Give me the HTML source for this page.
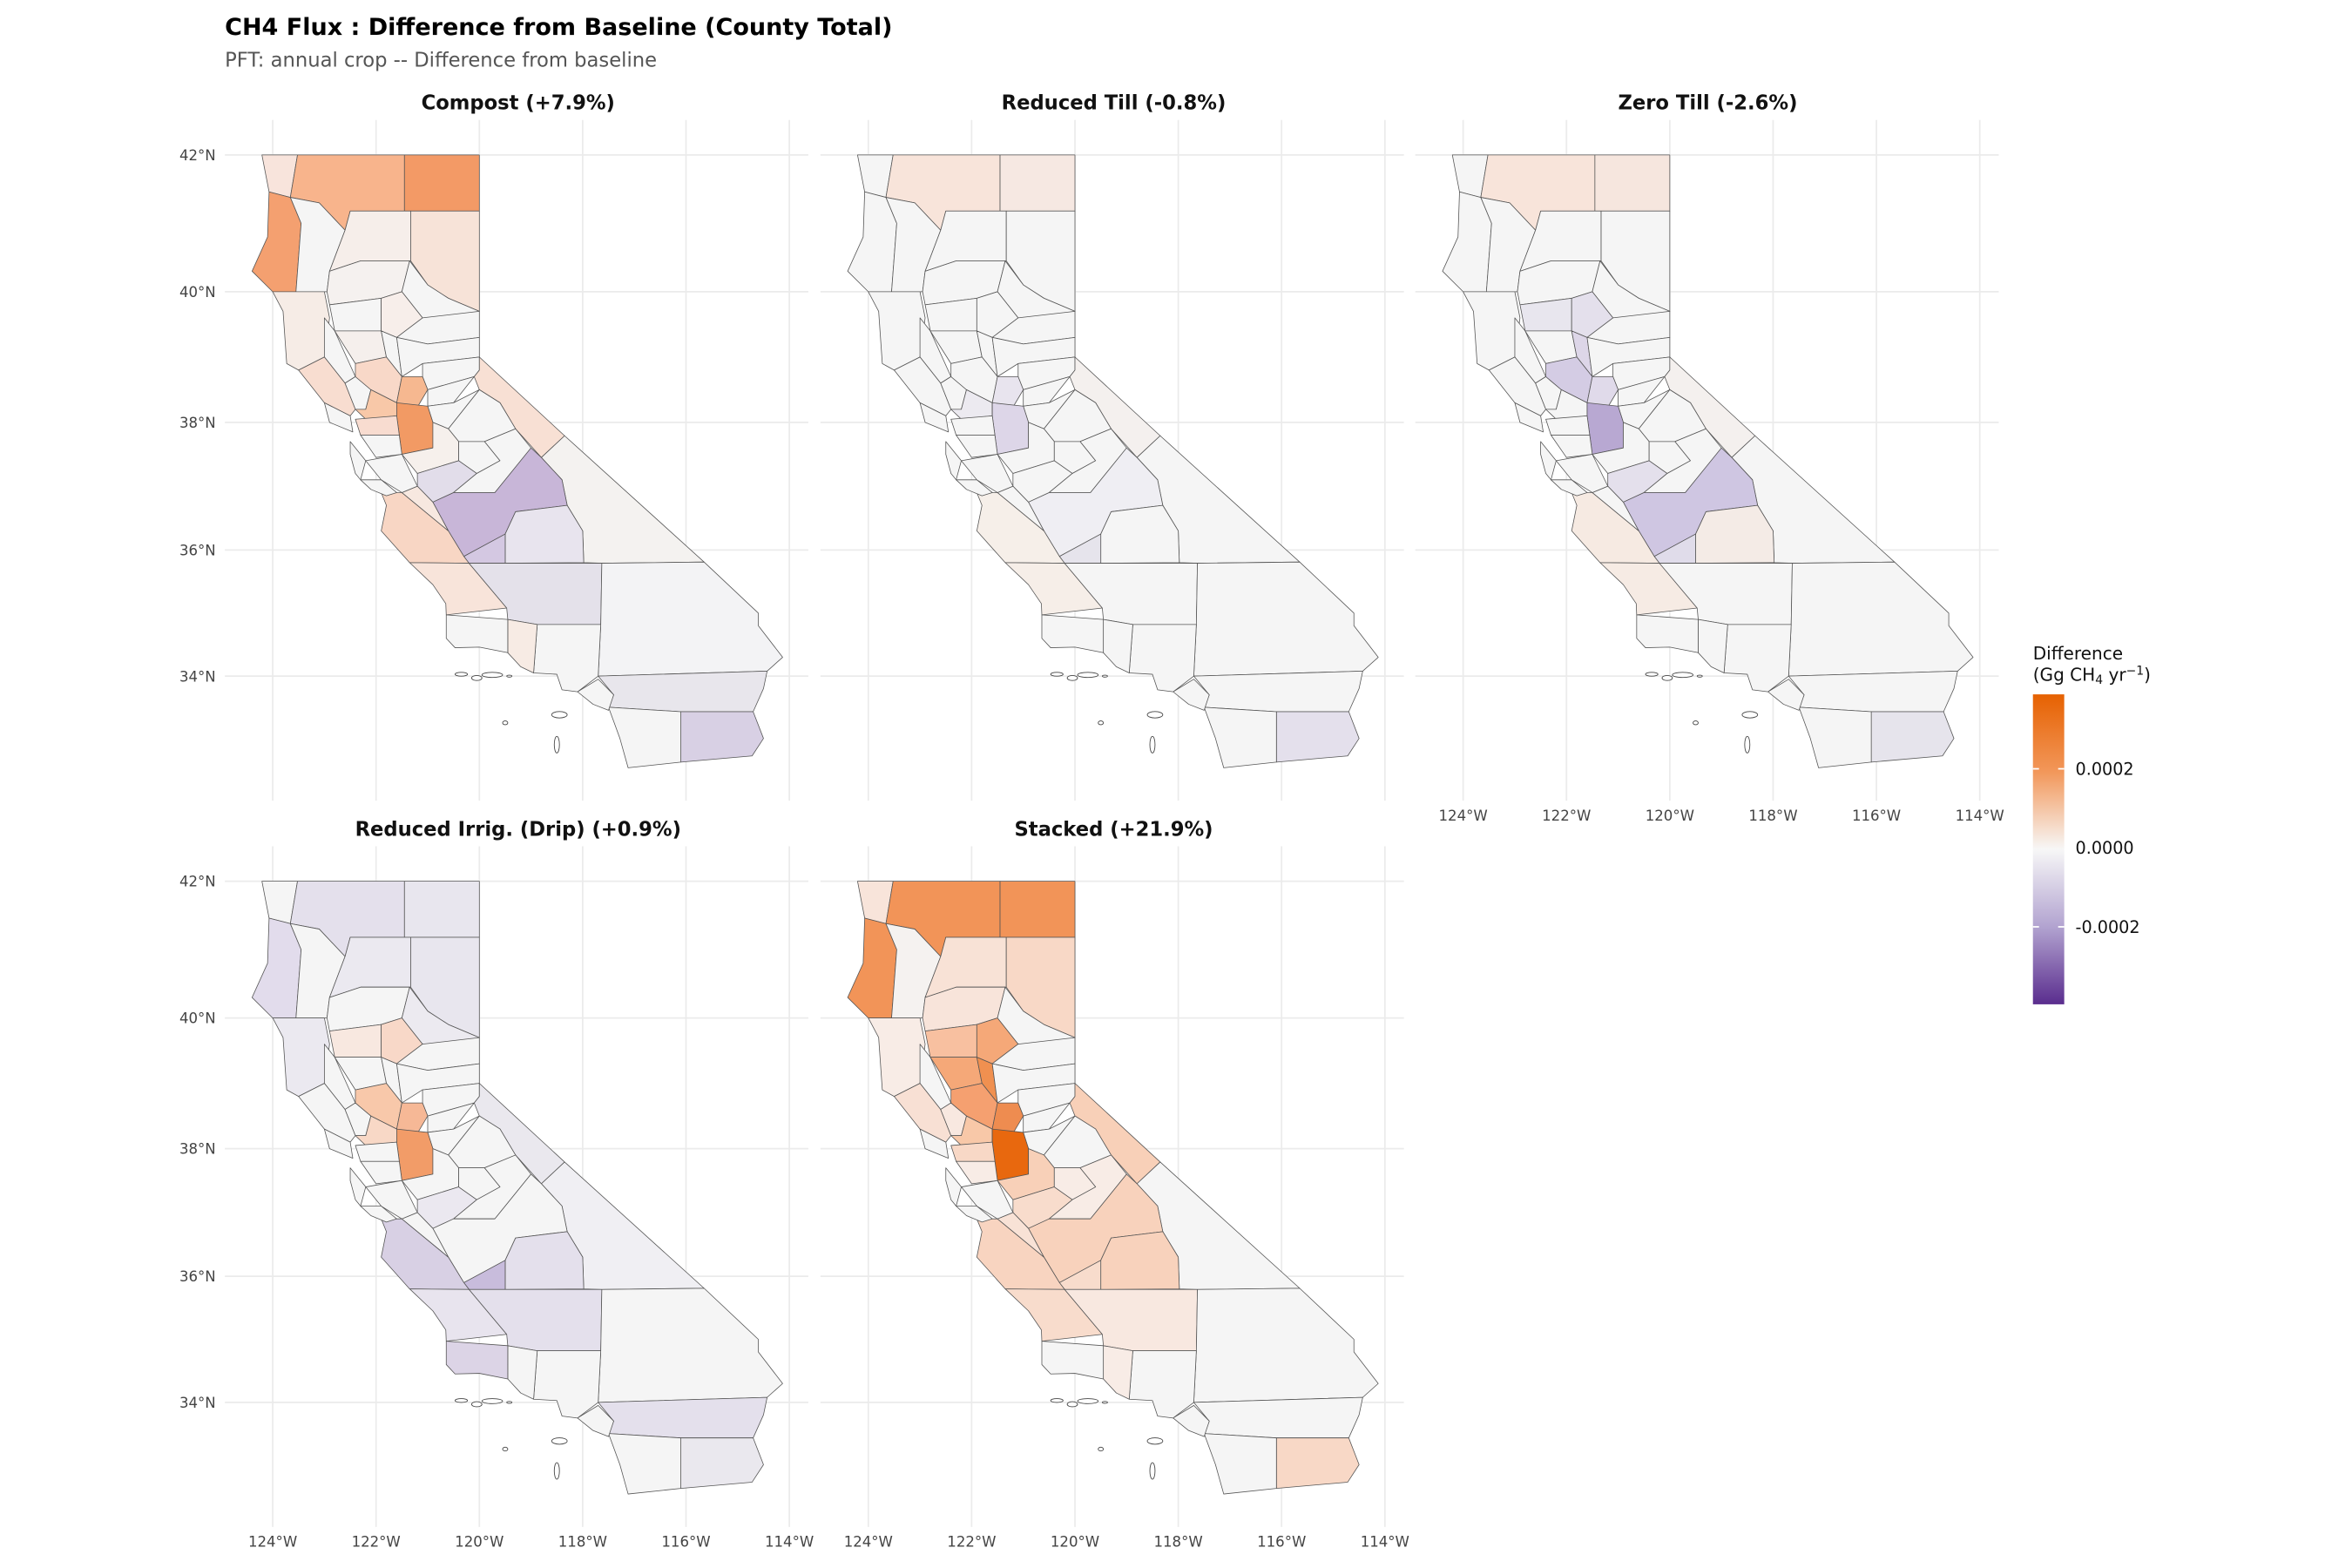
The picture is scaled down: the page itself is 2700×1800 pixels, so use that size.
<!DOCTYPE html>
<html><head><meta charset="utf-8"><style>
html,body{margin:0;padding:0;background:#fff;}
svg{display:block;}
text{font-family:"DejaVu Sans","Liberation Sans",sans-serif;}
</style></head><body>
<svg id="s" width="2700" height="1800" viewBox="0 0 1548 1032" xmlns="http://www.w3.org/2000/svg">
<defs><linearGradient id="lg" x1="0" y1="0" x2="0" y2="1">
<stop offset="0" stop-color="#e66101"/><stop offset="0.25" stop-color="#f2975a"/><stop offset="0.5" stop-color="#f7f7f7"/><stop offset="0.75" stop-color="#b2a3d0"/><stop offset="1" stop-color="#5a2d8e"/></linearGradient></defs>
<rect width="1548" height="1032" fill="#fff"/>
<g id="grid"></g><g id="maps"></g>
<text x="148" y="23" font-size="15.5" font-weight="bold" fill="#000">CH4 Flux : Difference from Baseline (County Total)</text>
<text x="148" y="44" font-size="13" fill="#555">PFT: annual crop  -- Difference from baseline</text>
<g font-size="13" font-weight="bold" text-anchor="middle" fill="#111">
<text x="341" y="72">Compost (+7.9%)</text>
<text x="733" y="72">Reduced Till (-0.8%)</text>
<text x="1124" y="72">Zero Till (-2.6%)</text>
<text x="341" y="550">Reduced Irrig. (Drip) (+0.9%)</text>
<text x="733" y="550">Stacked (+21.9%)</text>
</g>
<g font-size="11.5" fill="#111">
<text x="1338" y="434">Difference</text>
<text x="1338" y="448">(Gg CH<tspan font-size="8" dy="2">4</tspan><tspan dy="-2"> yr</tspan><tspan font-size="8" dy="-4">−1</tspan><tspan dy="4">)</tspan></text>
<rect x="1338" y="457" width="20.6" height="204" fill="url(#lg)"/>
<line x1="1338" y1="506" x2="1342" y2="506" stroke="#fff"/><line x1="1354.6" y1="506" x2="1358.6" y2="506" stroke="#fff"/>
<line x1="1338" y1="610" x2="1342" y2="610" stroke="#fff"/><line x1="1354.6" y1="610" x2="1358.6" y2="610" stroke="#fff"/>
<text x="1366" y="510" font-size="11">0.0002</text>
<text x="1366" y="562" font-size="11">0.0000</text>
<text x="1366" y="614" font-size="11">-0.0002</text>
</g>
</svg>
<script>
var NS="http://www.w3.org/2000/svg";
var LAT=[[42,102],[40,192],[38,278],[36,362],[34,445],[32,527]];
function Y(l){for(var i=0;i<LAT.length-1;i++){var a=LAT[i],b=LAT[i+1];if(l>=b[0]||i==LAT.length-2){return a[1]+(a[0]-l)*(b[1]-a[1])/(a[0]-b[0]);}}}
function X(o){return 179.5+(o+124)*34.0;}
var C={
DN:[[-124.21,42],[-123.52,42],[-123.66,41.38],[-124.07,41.46]],
SI:[[-123.52,42],[-121.45,42],[-121.45,41.18],[-122.5,41.18],[-122.6,40.9],[-123.1,41.3],[-123.66,41.38]],
MO:[[-121.45,42],[-120,42],[-120,41.18],[-121.45,41.18]],
HU:[[-124.07,41.46],[-123.66,41.38],[-123.45,41.0],[-123.55,40.0],[-124.0,40.0],[-124.4,40.3],[-124.1,40.8]],
TR:[[-123.66,41.38],[-123.1,41.3],[-122.6,40.9],[-122.9,40.3],[-122.95,40.0],[-123.55,40.0],[-123.45,41.0]],
SH:[[-122.5,41.18],[-121.33,41.18],[-121.33,40.45],[-122.3,40.45],[-122.9,40.3],[-122.6,40.9]],
LA_:[[-121.33,41.18],[-120,41.18],[-120,39.7],[-120.6,39.9],[-121.0,40.1],[-121.33,40.45]],
ME:[[-124.0,40.0],[-123.0,40.0],[-122.9,39.6],[-123.0,39.0],[-123.5,38.8],[-123.73,38.9],[-123.8,39.7]],
TE:[[-122.95,40.0],[-122.9,40.3],[-122.3,40.45],[-121.35,40.45],[-121.5,40.0],[-121.9,39.9],[-122.9,39.8]],
PL:[[-121.35,40.45],[-121.0,40.1],[-120.6,39.9],[-120.0,39.7],[-120.5,39.6],[-121.1,39.6],[-121.5,40.0]],
GL:[[-122.9,39.8],[-121.9,39.9],[-121.9,39.4],[-122.8,39.4]],
BU:[[-121.9,39.9],[-121.5,40.0],[-121.1,39.6],[-121.6,39.3],[-121.9,39.4]],
LK:[[-123.0,39.6],[-122.8,39.4],[-122.4,38.7],[-122.6,38.6],[-123.0,39.0]],
CO:[[-122.8,39.4],[-121.9,39.4],[-121.8,39.0],[-122.4,38.9]],
NV:[[-121.1,39.6],[-120.0,39.7],[-120.0,39.3],[-121.0,39.2],[-121.6,39.3]],
SU:[[-121.9,39.4],[-121.6,39.3],[-121.5,38.7],[-121.8,39.0]],
PC:[[-121.6,39.3],[-121.0,39.2],[-120.0,39.3],[-120.0,39.0],[-121.1,38.9],[-121.5,38.7]],
ED:[[-121.1,38.9],[-120.0,39.0],[-120.0,38.8],[-120.1,38.7],[-121.0,38.5],[-121.1,38.7]],
SO:[[-123.5,38.8],[-123.0,39.0],[-122.6,38.6],[-122.4,38.2],[-122.5,38.1],[-123.0,38.3]],
NA:[[-122.6,38.6],[-122.4,38.7],[-122.1,38.5],[-122.2,38.2],[-122.4,38.2]],
YO:[[-122.4,38.9],[-121.8,39.0],[-121.5,38.7],[-121.6,38.3],[-122.1,38.5],[-122.4,38.7]],
SL:[[-122.1,38.5],[-121.6,38.3],[-121.6,38.1],[-122.2,38.05],[-122.4,38.2],[-122.2,38.2]],
SA:[[-121.5,38.7],[-121.1,38.7],[-121.0,38.5],[-121.3,38.1],[-121.6,38.1],[-121.6,38.3]],
AM:[[-121.0,38.5],[-120.1,38.7],[-120.5,38.3],[-121.0,38.25]],
CA:[[-121.0,38.25],[-120.5,38.3],[-120.0,38.5],[-120.6,37.9],[-120.9,38.0]],
SJ:[[-121.6,38.3],[-121.0,38.25],[-120.9,38.0],[-120.9,37.6],[-121.5,37.5],[-121.6,38.1]],
MN:[[-120.0,39.0],[-118.35,37.79],[-118.8,37.45],[-119.3,37.9],[-119.6,38.3],[-120.0,38.5],[-120.1,38.7],[-120.0,38.8]],
IN:[[-118.35,37.79],[-115.65,35.81],[-117.63,35.79],[-117.98,35.8],[-118.0,36.3],[-118.3,36.7],[-118.4,37.1],[-118.8,37.45]],
TU:[[-120.6,37.9],[-120.0,38.5],[-119.6,38.3],[-119.3,37.9],[-119.9,37.7],[-120.4,37.7]],
ST:[[-121.5,37.5],[-120.9,37.6],[-120.9,38.0],[-120.6,37.9],[-120.4,37.7],[-120.4,37.4],[-121.2,37.2]],
MC:[[-121.2,37.2],[-120.4,37.4],[-120.05,37.2],[-120.5,36.9],[-120.9,36.75],[-121.2,37.0]],
MP:[[-120.4,37.7],[-119.9,37.7],[-119.6,37.4],[-120.05,37.2],[-120.4,37.4]],
MD:[[-120.05,37.2],[-119.6,37.4],[-119.9,37.7],[-119.3,37.9],[-119.0,37.6],[-119.7,36.9],[-120.5,36.9]],
FR:[[-120.9,36.75],[-120.5,36.9],[-119.7,36.9],[-119.0,37.6],[-118.8,37.45],[-118.4,37.1],[-118.3,36.7],[-119.3,36.6],[-119.5,36.25],[-120.3,35.9],[-120.6,36.3]],
TL:[[-119.3,36.6],[-118.3,36.7],[-118.0,36.3],[-117.98,35.8],[-119.5,35.79],[-119.5,36.25]],
KI:[[-120.3,35.9],[-119.5,36.25],[-119.5,35.79],[-120.2,35.79]],
MY:[[-121.9,36.9],[-121.5,36.9],[-120.6,36.3],[-120.3,35.9],[-120.2,35.79],[-121.35,35.8],[-121.9,36.3],[-121.8,36.7]],
SB_:[[-121.5,36.9],[-121.2,37.0],[-120.9,36.75],[-120.6,36.3]],
MA:[[-123.0,38.3],[-122.5,38.1],[-122.45,37.85],[-122.9,38.0]],
CC:[[-122.4,38.05],[-121.6,38.1],[-121.55,37.8],[-122.3,37.8]],
AL:[[-122.3,37.8],[-121.55,37.8],[-121.5,37.5],[-122.0,37.45]],
SC:[[-122.2,37.4],[-121.5,37.5],[-121.2,37.0],[-121.5,36.9],[-121.9,37.1]],
SM:[[-122.5,37.7],[-122.2,37.4],[-122.3,37.1],[-122.4,37.2],[-122.5,37.5]],
CZ:[[-122.3,37.1],[-121.9,37.1],[-121.6,36.9],[-121.8,36.85],[-122.1,36.95]],
LO:[[-121.35,35.8],[-120.2,35.79],[-119.47,35.08],[-120.64,34.97],[-120.65,35.15],[-120.9,35.45]],
KE:[[-120.2,35.79],[-117.63,35.79],[-117.65,34.82],[-118.88,34.82],[-119.45,34.9],[-119.47,35.08]],
SN:[[-117.63,35.79],[-115.65,35.81],[-114.6,35.0],[-114.6,34.8],[-114.13,34.3],[-114.43,34.08],[-117.7,34.0],[-117.65,34.82]],
RI:[[-117.7,34.0],[-114.43,34.08],[-114.5,33.8],[-114.7,33.43],[-116.1,33.43],[-117.5,33.5],[-117.4,33.7]],
IM:[[-116.1,33.43],[-114.7,33.43],[-114.5,33.0],[-114.72,32.72],[-116.1,32.62]],
SD:[[-117.5,33.5],[-116.1,33.43],[-116.1,32.62],[-117.12,32.53],[-117.28,33.0]],
OR:[[-118.1,33.75],[-117.7,33.95],[-117.4,33.7],[-117.5,33.45],[-117.8,33.55]],
LA:[[-118.88,34.82],[-117.65,34.82],[-117.7,34.0],[-118.1,33.75],[-118.4,33.78],[-118.5,34.03],[-118.95,34.05]],
VE:[[-119.45,34.9],[-118.88,34.82],[-118.95,34.05],[-119.2,34.15],[-119.45,34.37]],
SBA:[[-120.64,34.97],[-119.45,34.9],[-119.45,34.37],[-120.0,34.46],[-120.47,34.45],[-120.64,34.6]]
};
var ISL=[[-120.35,34.03,0.12,0.03],[-119.75,34.02,0.2,0.04],[-119.42,34.0,0.05,0.015],[-120.05,33.97,0.1,0.04],[-118.45,33.38,0.15,0.05],[-118.5,32.9,0.05,0.13],[-119.5,33.25,0.05,0.03]];
var D="#f5f5f5";
var P=[
{SI:"#f8b48c",MO:"#f39a66",HU:"#f4a070",DN:"#f8e4dc",SH:"#f6eeea",LA_:"#f7e3d8",ME:"#f6ece6",TE:"#f5f1ef",CO:"#f5efec",BU:"#f7eeea",YO:"#f8d8c8",SA:"#f6b890",SL:"#f8c8a8",SJ:"#f29a64",SO:"#f8ddd0",CC:"#f8dcd0",FR:"#c8b6d8",TL:"#e8e4ee",KI:"#d4c8e2",MC:"#e2ddea",MY:"#f8d6c4",SB_:"#f7e8e0",LO:"#f8e4da",VE:"#f7ebe4",KE:"#e4e1ea",MN:"#f8e0d4",IN:"#f4f2f0",SN:"#f3f3f5",RI:"#e8e6ec",IM:"#d8d0e4",ST:"#f6f0ec"},
{SI:"#f8e4da",MO:"#f6e8e2",SJ:"#ddd6e8",SA:"#e8e4ee",SL:"#eceaf0",IM:"#e4e0ec",KI:"#e6e4ec",FR:"#efeef3",MY:"#f6efe9",MN:"#f4f0ee",LO:"#f6eee8"},
{SI:"#f8e4da",MO:"#f6e6de",SJ:"#b8a8d2",YO:"#d4cce4",SU:"#ddd6e8",GL:"#e8e6ee",BU:"#e4e0ec",SA:"#e0daea",FR:"#cfc6e2",TL:"#f4ebe6",MC:"#e4e0ec",KI:"#e0dcea",MY:"#f6eae2",IM:"#e6e4ec",LO:"#f6ebe4",MN:"#f4f0ee"},
{SI:"#e4e0ec",MO:"#e8e6ee",HU:"#e2dcec",SH:"#ebe9f0",LA_:"#e8e6ee",ME:"#ebe9f0",BU:"#f8d8c8",GL:"#f8e8e0",SA:"#f6b896",YO:"#f8c8aa",SJ:"#f29c68",SL:"#f8d8c6",MY:"#d8d0e4",LO:"#e8e4ee",KI:"#c8bcdc",TL:"#e4e0ec",MC:"#ebe8f0",KE:"#e4e0ec",SBA:"#dcd4e6",RI:"#e4e0ec",IM:"#eae8ee",IN:"#f0eff3",MN:"#eae8ee",PL:"#eceaf0"},
{SI:"#f29458",MO:"#f29458",HU:"#f29458",DN:"#f8e4da",TR:"#f5f2f0",SH:"#f8e2d6",LA_:"#f8d8c6",TE:"#f8e4da",GL:"#f8c0a0",BU:"#f5a878",CO:"#f5a878",YO:"#f5a070",SU:"#f09050",SA:"#ee8c50",SO:"#f8e0d4",NA:"#f8e8e0",SL:"#f8c8a8",SJ:"#e8680e",CC:"#f8d8c6",ST:"#f8d0b8",MC:"#f8dccc",FR:"#f8d2bc",TL:"#f8d2bc",KI:"#f8dccc",MY:"#f8d4c0",SB_:"#f8e2d6",LO:"#f8dccc",KE:"#f8e8e0",MN:"#f8d0b8",IM:"#f8d8c6",MD:"#f8ece6",MP:"#f8ece6",VE:"#f8ece6",ME:"#f8ece6",AL:"#f8ece6"}
];
var OFF=[[0,0],[392,0],[783.5,0],[0,478],[392,478]];
var grid=document.getElementById("grid"),maps=document.getElementById("maps");
function el(t,a,p){var e=document.createElementNS(NS,t);for(var k in a)e.setAttribute(k,a[k]);p.appendChild(e);return e;}
OFF.forEach(function(o,i){
  var dx=o[0],dy=o[1];
  [42,40,38,36,34].forEach(function(l){var y=Y(l)+dy;el("line",{x1:148+dx,x2:532+dx,y1:y,y2:y,stroke:"#ebebeb","stroke-width":1},grid);});
  [-124,-122,-120,-118,-116,-114].forEach(function(l){var x=X(l)+dx;el("line",{x1:x,x2:x,y1:79+dy,y2:527+dy,stroke:"#ebebeb","stroke-width":1},grid);});
  var g=el("g",{transform:"translate("+dx+","+dy+")"},maps);
  for(var k in C){var pts=C[k].map(function(p){return X(p[0]).toFixed(1)+","+Y(p[1]).toFixed(1);}).join(" ");
    el("polygon",{points:pts,fill:P[i][k]||D,stroke:"#555","stroke-width":0.45,"stroke-linejoin":"round"},g);}
  ISL.forEach(function(s){el("ellipse",{cx:X(s[0]),cy:Y(s[1]),rx:s[2]*34,ry:s[3]*42,fill:"#fff",stroke:"#444","stroke-width":0.5},g);});
  if(i==0||i==3){[42,40,38,36,34].forEach(function(l){var t=el("text",{x:142+dx,y:Y(l)+dy+3.5,"font-size":9.5,fill:"#444","text-anchor":"end"},grid);t.textContent=l+"°N";});}
  if(i>=2){var ly=(i==2)?540:1018;[124,122,120,118,116,114].forEach(function(l){var t=el("text",{x:X(-l)+dx,y:ly,"font-size":9.5,fill:"#444","text-anchor":"middle"},grid);t.textContent=l+"°W";});}
});
</script>
</body></html>
